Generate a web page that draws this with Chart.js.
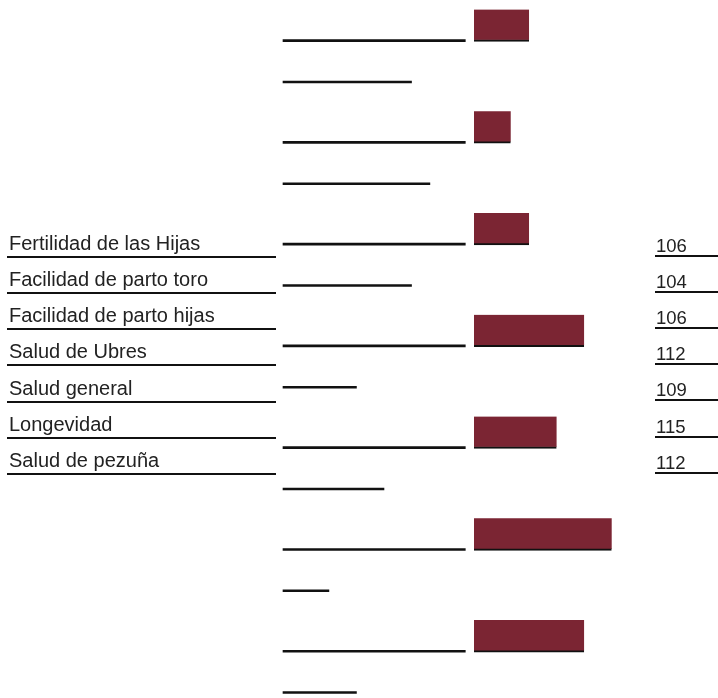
<!DOCTYPE html>
<html>
<head>
<meta charset="utf-8">
<script src="https://cdn.jsdelivr.net/npm/chart.js@4.4.1/dist/chart.umd.min.js"></script>
<style>
  body { margin: 0; background: #fff; }
  #wrap { position: relative; width: 718px; height: 698px; overflow: hidden; }
  #chart { position: absolute; left: 0; top: 0; }
  .lbl {
    position: absolute; left: 7px; width: 267px; height: 20px; line-height: 20px;
    padding-left: 2px; padding-bottom: 3px; border-bottom: 2px solid #111;
    font-family: "Liberation Sans", Arial, sans-serif; font-size: 20px; color: #222;
    white-space: nowrap;
  }
  .num {
    position: absolute; left: 655px; width: 62px; height: 18px; line-height: 18px;
    padding-left: 1px; border-bottom: 2px solid #111;
    font-family: "Liberation Sans", Arial, sans-serif; font-size: 18.5px; color: #222;
  }
</style>
</head>
<body>
<div id="wrap">
  <canvas id="chart" width="718" height="698"></canvas>
</div>
<script>
var traits = ["Fertilidad de las Hijas", "Facilidad de parto toro", "Facilidad de parto hijas",
  "Salud de Ubres", "Salud general", "Longevidad", "Salud de pezuña"];
var values = [106, 104, 106, 112, 109, 115, 112];
var baseline = 100;
var ceiling = 120;

// layout of the drawing, in pixels
var baseX = 474, pxPerUnit = 9.18;
var rowTop = 25.5, rowPitch = 101.76;
var lineStart = baseline - (baseX - 283) / pxPerUnit;
var lineEnd = baseline - (baseX - 465.3) / pxPerUnit;
var longOffset = 0.149, shortOffset = 0.555;

var wrap = document.getElementById("wrap");
traits.forEach(function (t, i) {
  var d = document.createElement("div");
  d.className = "lbl";
  d.style.top = (233 + 36.15 * i) + "px";
  d.textContent = t;
  wrap.appendChild(d);
});
values.forEach(function (v, i) {
  var d = document.createElement("div");
  d.className = "num";
  d.style.top = (237 + 36.1 * i) + "px";
  d.textContent = v;
  wrap.appendChild(d);
});

const data = {
  datasets: [
    {
      label: "Índice",
      data: values.map(function (v, i) { return { y: i, x: [baseline, v] }; }),
      backgroundColor: "#7b2533",
      borderColor: "#111",
      borderWidth: { top: 0, right: 0, bottom: 2, left: 0 },
      barThickness: 32,
    },
    {
      label: "referencia",
      data: values.map(function (v, i) { return { y: i + longOffset, x: [lineStart, lineEnd] }; }),
      backgroundColor: "#111",
      barThickness: 2,
    },
    {
      label: "resto",
      data: values.map(function (v, i) { return { y: i + shortOffset, x: [lineStart, lineStart + (ceiling - v)] }; }),
      backgroundColor: "#111",
      barThickness: 2,
    },
  ],
};

const config = {
  type: "bar",
  data: data,
  options: {
    indexAxis: "y",
    responsive: false,
    animation: false,
    layout: { padding: 0 },
    datasets: { bar: { grouped: false } },
    scales: {
      x: {
        type: "linear",
        display: false,
        offset: false,
        min: baseline - baseX / pxPerUnit,
        max: baseline + (718 - baseX) / pxPerUnit,
      },
      y: {
        type: "linear",
        display: false,
        offset: false,
        reverse: true,
        min: -rowTop / rowPitch,
        max: (698 - rowTop) / rowPitch,
      },
    },
    plugins: {
      legend: { display: false },
      tooltip: { enabled: false },
    },
  },
};

const chart = new Chart(document.getElementById("chart"), config);
</script>
</body>
</html>
